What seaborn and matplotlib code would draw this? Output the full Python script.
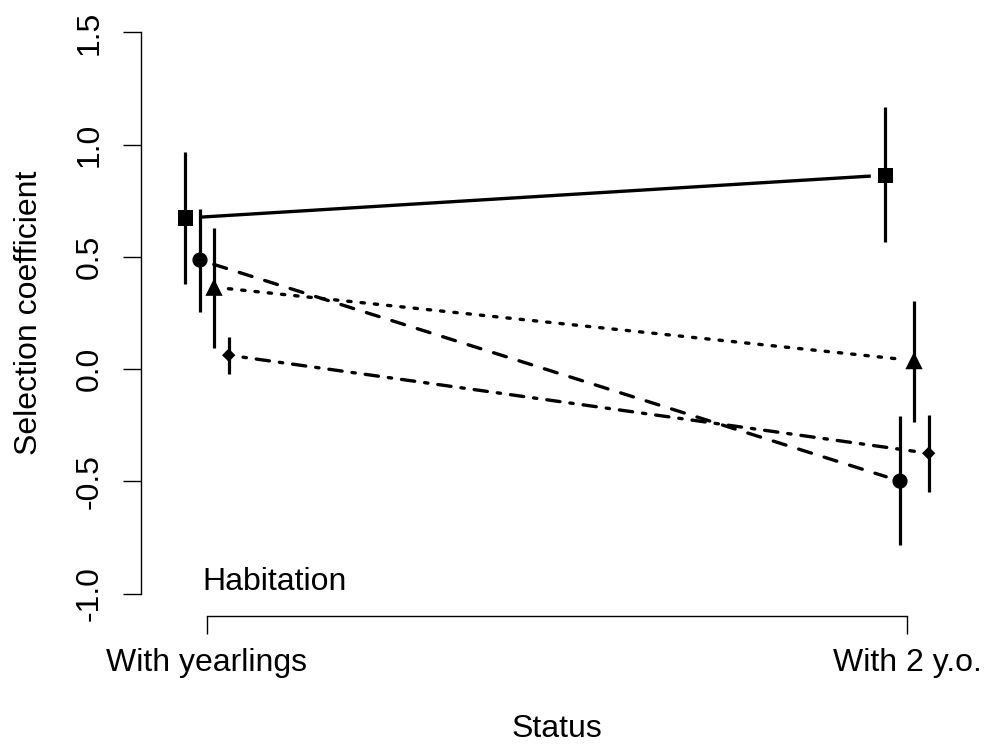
import numpy as np
import pandas as pd
import matplotlib
matplotlib.use("Agg")
import matplotlib.pyplot as plt
import seaborn as sns

# ---- data ----
status = ["With yearlings", "With 2 y.o."]
series = ["square", "circle", "triangle", "diamond"]

est_square = [0.673, 0.864]
lo_square = [0.379, 0.566]
hi_square = [0.967, 1.167]

est_circle = [0.486, -0.499]
lo_circle = [0.254, -0.784]
hi_circle = [0.713, -0.209]

est_triangle = [0.365, 0.038]
lo_triangle = [0.094, -0.236]
hi_triangle = [0.628, 0.303]

est_diamond = [0.062, -0.375]
lo_diamond = [-0.022, -0.547]
hi_diamond = [0.143, -0.204]

yticks = [-1.0, -0.5, 0.0, 0.5, 1.0, 1.5]
ytick_labels = ["-1.0", "-0.5", "0.0", "0.5", "1.0", "1.5"]

# ---- styles ----
offsets = {"square": -0.031, "circle": -0.01, "triangle": 0.01, "diamond": 0.031}
markers = {"square": "s", "circle": "o", "triangle": "^", "diamond": "D"}
msizes = {"square": 120, "circle": 120, "triangle": 155, "diamond": 46}
dashes = {"square": None, "circle": (4, 4), "triangle": (1, 3),
          "diamond": (1, 3, 4, 3)}

est = {"square": est_square, "circle": est_circle, "triangle": est_triangle, "diamond": est_diamond}
lo = {"square": lo_square, "circle": lo_circle, "triangle": lo_triangle, "diamond": lo_diamond}
hi = {"square": hi_square, "circle": hi_circle, "triangle": hi_triangle, "diamond": hi_diamond}

rows = []
for s in series:
    for j, st in enumerate(status):
        rows.append(dict(series=s, status=st, pos=j + 1 + offsets[s],
                         est=est[s][j], lo=lo[s][j], hi=hi[s][j]))
df = pd.DataFrame(rows)

sns.set_style("ticks")
plt.rcParams["font.family"] = ["Liberation Sans", "DejaVu Sans"]
plt.rcParams["text.color"] = "black"
plt.rcParams["axes.labelcolor"] = "black"

W, H = 986, 745
fig = plt.figure(figsize=(W / 100, H / 100), dpi=100)
ax_l, ax_r, ax_t, ax_b = 141, 973, 10, 616
ax = fig.add_axes([ax_l / W, (H - ax_b) / H, (ax_r - ax_l) / W, (ax_b - ax_t) / H])
ax.set_xlim(1 - 66 / 700, 2 + 66 / 700)
ax.set_ylim(-1.1, 1.6)
ax.set_facecolor("white")

# error bars
for s in series:
    d = df[df.series == s]
    ax.vlines(d.pos, d.lo, d.hi, color="black", lw=2.3, zorder=2)

# connecting lines with gaps around the points (R type="b" look)
fig.canvas.draw()
gap = 14.5
for s in series:
    d = df[df.series == s]
    p = ax.transData.transform(np.column_stack([d.pos.values, d.est.values]))
    v = p[1] - p[0]
    u = v / np.hypot(*v)
    seg = np.vstack([p[0] + u * gap, p[1] - u * gap])
    seg = ax.transData.inverted().transform(seg)
    line, = ax.plot(seg[:, 0], seg[:, 1], color="black", lw=2.4, zorder=2,
                    solid_capstyle="butt", dash_capstyle="round")
    if dashes[s] is not None:
        line.set_dashes(dashes[s])

# points
sns.scatterplot(data=df, x="pos", y="est", style="series", markers=markers,
                size="series", sizes=msizes, color="black", linewidth=0,
                legend=False, ax=ax, zorder=3)

# axes styling
for sp in ["top", "right"]:
    ax.spines[sp].set_visible(False)
ax.spines["left"].set_bounds(-1.0, 1.5)
ax.spines["bottom"].set_bounds(1, 2)
for sp in ["left", "bottom"]:
    ax.spines[sp].set_color("black")
    ax.spines[sp].set_linewidth(1.0)

ax.set_xticks([1, 2])
ax.set_xticklabels(status)
ax.set_yticks(yticks)
ax.set_yticklabels(ytick_labels, rotation=90, va="center")
ax.tick_params(axis="both", direction="out", length=13, width=1.0,
               labelsize=23, colors="black")
ax.tick_params(axis="x", pad=10)
ax.tick_params(axis="y", pad=13)

ax.set_xlabel("Status", fontsize=23)
ax.set_ylabel("Selection coefficient", fontsize=23)
ax.xaxis.set_label_coords(0.5, (ax_b - 737) / (ax_b - ax_t))
ax.xaxis.label.set_va("baseline")
ax.yaxis.set_label_coords((37 - ax_l) / (ax_r - ax_l), 0.5)
ax.yaxis.label.set_va("baseline")

ax.text(0.994, -0.985, "Habitation", fontsize=23, ha="left", va="baseline")

fig.savefig("out.png", dpi=100, facecolor="white")
